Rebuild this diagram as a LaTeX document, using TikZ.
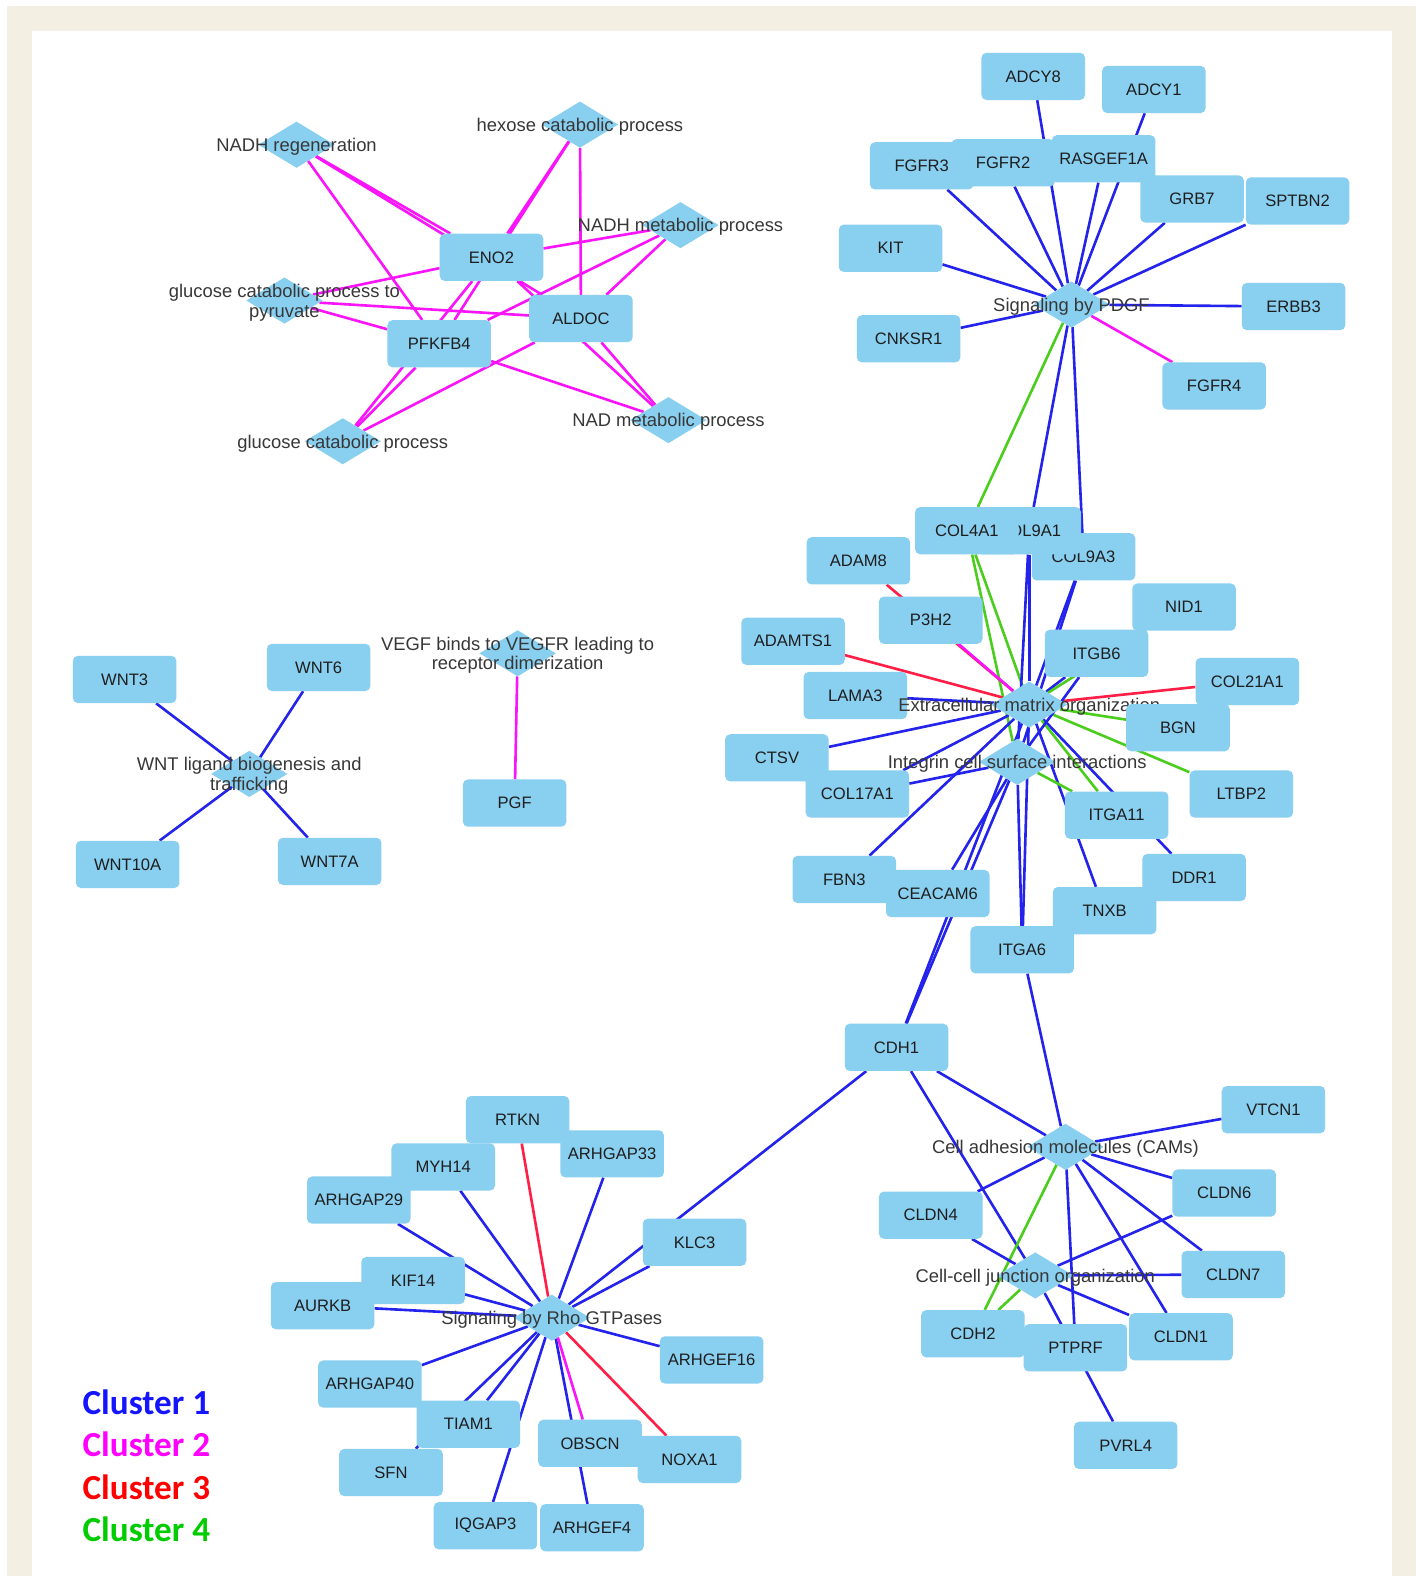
\documentclass[tikz,border=0pt]{standalone}
\usepackage{fontspec}
\setmainfont{Liberation Sans}
\newfontfamily\legendfont{Carlito}
\usetikzlibrary{shapes.geometric}
\definecolor{nodeblue}{RGB}{137,207,240}
\definecolor{framebg}{RGB}{243,240,227}
\definecolor{cblue}{RGB}{35,35,235}
\definecolor{cmag}{RGB}{250,20,250}
\definecolor{cred}{RGB}{255,30,70}
\definecolor{cgreen}{RGB}{75,205,30}
\definecolor{gtext}{RGB}{30,30,30}
\definecolor{ptext}{RGB}{55,55,55}
\definecolor{lg1}{RGB}{20,20,255}
\definecolor{lg2}{RGB}{255,0,255}
\definecolor{lg3}{RGB}{255,0,0}
\definecolor{lg4}{RGB}{0,204,0}
\pgfdeclarelayer{back}
\pgfdeclarelayer{links}
\pgfsetlayers{back,links,main}
\tikzset{
  gene/.style={shape=rectangle, rounded corners=5pt, minimum width=103pt, minimum height=47pt, inner sep=0pt, fill=nodeblue, text=gtext, font=\fontsize{16.5}{18}\selectfont},
  proc/.style={shape=diamond, minimum width=76pt, minimum height=46pt, inner sep=0pt, fill=nodeblue},
  plabel/.style={inner sep=0pt, align=center, yshift=-2pt, text=ptext, font=\fontsize{18.3}{19.5}\selectfont},
  c1/.style={draw=cblue, line width=2.6pt},
  c2/.style={draw=cmag, line width=2.6pt},
  c3/.style={draw=cred, line width=2.6pt},
  c4/.style={draw=cgreen, line width=2.6pt},
  legend/.style={anchor=west, inner sep=0pt, font=\legendfont\bfseries\fontsize{35}{36}\selectfont}
}
\begin{document}
\begin{tikzpicture}[x=1pt, y=-1pt]
\useasboundingbox (0,0) rectangle (1413,1568);
\begin{pgfonlayer}{back}
\fill[white] (0,0) rectangle (1413,1568);
\fill[framebg] (7,6) rectangle (1409,1568);
\fill[white] (32,31) rectangle (1385,1568);
\end{pgfonlayer}

\node[gene] (eno2) at (489,256) {ENO2};
\node[gene] (aldoc) at (578,317) {ALDOC};
\node[gene] (pfkfb4) at (437,342) {PFKFB4};
\node[proc] (nadhreg) at (295,144) {}; \node[plabel] at (nadhreg) {NADH regeneration};
\node[proc] (hexose) at (577,124) {}; \node[plabel] at (hexose) {hexose catabolic process};
\node[proc] (nadhmet) at (677,224) {}; \node[plabel] at (nadhmet) {NADH metabolic process};
\node[proc] (gcpyr) at (283,299) {}; \node[plabel] at (gcpyr) {glucose catabolic process to\\pyruvate};
\node[proc] (gccat) at (341,439) {}; \node[plabel] at (gccat) {glucose catabolic process};
\node[proc] (nadmet) at (665,418) {}; \node[plabel] at (nadmet) {NAD metabolic process};

\node[gene] (adcy8) at (1028,76) {ADCY8};
\node[gene] (adcy1) at (1148,89) {ADCY1};
\node[gene] (fgfr3) at (917,165) {FGFR3};
\node[gene] (fgfr2) at (998,162) {FGFR2};
\node[gene] (rasgef) at (1098,158) {RASGEF1A};
\node[gene] (grb7) at (1186,198) {GRB7};
\node[gene] (sptbn2) at (1291,200) {SPTBN2};
\node[gene] (kit) at (886,247) {KIT};
\node[gene] (cnksr1) at (904,337) {CNKSR1};
\node[gene] (erbb3) at (1287,305) {ERBB3};
\node[gene] (fgfr4) at (1208,384) {FGFR4};
\node[proc] (pdgf) at (1066,303) {}; \node[plabel] at (pdgf) {Signaling by PDGF};

\node[gene] (wnt3) at (124,676) {WNT3};
\node[gene] (wnt6) at (317,664) {WNT6};
\node[gene] (wnt10a) at (127,860) {WNT10A};
\node[gene] (wnt7a) at (328,857) {WNT7A};
\node[proc] (wnt) at (248,770) {}; \node[plabel] at (wnt) {WNT ligand biogenesis and\\trafficking};
\node[gene] (pgf) at (512,799) {PGF};
\node[proc] (vegf) at (515,650) {}; \node[plabel] at (vegf) {VEGF binds to VEGFR leading to\\receptor dimerization};

\node[gene] (adam8) at (854,558) {ADAM8};
\node[gene] (p3h2) at (926,617) {P3H2};
\node[gene] (adamts1) at (789,638) {ADAMTS1};
\node[gene] (lama3) at (851,692) {LAMA3};
\node[gene] (ctsv) at (773,754) {CTSV};
\node[gene] (col17a1) at (853,790) {COL17A1};
\node[gene] (fbn3) at (840,875) {FBN3};
\node[gene] (ceacam6) at (933,889) {CEACAM6};
\node[gene] (col9a3) at (1078,554) {COL9A3};
\node[gene] (col9a1) at (1024,528) {COL9A1};
\node[gene] (col4a1) at (962,528) {COL4A1};
\node[gene] (nid1) at (1178,604) {NID1};
\node[gene] (itgb6) at (1091,650) {ITGB6};
\node[gene] (itga11) at (1111,811) {ITGA11};
\node[gene] (ltbp2) at (1235,790) {LTBP2};
\node[gene] (ddr1) at (1188,873) {DDR1};
\node[gene] (tnxb) at (1099,906) {TNXB};
\node[gene] (itga6) at (1017,945) {ITGA6};
\node[proc] (ecm) at (1024,701) {}; \node[plabel] at (ecm) {Extracellular matrix organization};
\node[proc] (integ) at (1012,758) {}; \node[plabel] at (integ) {Integrin cell surface interactions};
\node[gene] (col21a1) at (1241,678) {COL21A1};
\node[gene] (bgn) at (1172,724) {BGN};

\node[gene] (cdh1) at (892,1042) {CDH1};
\node[gene] (vtcn1) at (1267,1104) {VTCN1};
\node[gene] (cldn6) at (1218,1187) {CLDN6};
\node[gene] (cldn4) at (926,1209) {CLDN4};
\node[gene] (cldn7) at (1227,1268) {CLDN7};
\node[gene] (cdh2) at (968,1327) {CDH2};
\node[gene] (ptprf) at (1070,1341) {PTPRF};
\node[gene] (cldn1) at (1175,1330) {CLDN1};
\node[gene] (pvrl4) at (1120,1438) {PVRL4};
\node[proc] (cams) at (1060,1141) {}; \node[plabel] at (cams) {Cell adhesion molecules (CAMs)};
\node[proc] (junc) at (1030,1269) {}; \node[plabel] at (junc) {Cell-cell junction organization};

\node[gene] (rtkn) at (515,1114) {RTKN};
\node[gene] (arhgap33) at (609,1148) {ARHGAP33};
\node[gene] (myh14) at (441,1161) {MYH14};
\node[gene] (arhgap29) at (357,1194) {ARHGAP29};
\node[gene] (klc3) at (691,1236) {KLC3};
\node[gene] (aurkb) at (321,1299) {AURKB};
\node[gene] (kif14) at (411,1274) {KIF14};
\node[gene] (arhgef16) at (708,1353) {ARHGEF16};
\node[gene] (arhgap40) at (368,1377) {ARHGAP40};
\node[gene] (sfn) at (389,1465) {SFN};
\node[gene] (tiam1) at (466,1417) {TIAM1};
\node[gene] (obscn) at (587,1436) {OBSCN};
\node[gene] (noxa1) at (686,1452) {NOXA1};
\node[gene] (iqgap3) at (483,1518) {IQGAP3};
\node[gene] (arhgef4) at (589,1520) {ARHGEF4};
\node[proc] (rho) at (549,1311) {}; \node[plabel] at (rho) {Signaling by Rho GTPases};

\node[legend, text=lg1] (cl1) at (82,1395) {Cluster 1};
\node[legend, text=lg2] (cl2) at (82,1437) {Cluster 2};
\node[legend, text=lg3] (cl3) at (82,1480) {Cluster 3};
\node[legend, text=lg4] (cl4) at (82,1522) {Cluster 4};

\begin{pgfonlayer}{links}
\draw[c2] (nadhreg) -- (eno2); \draw[c2] (nadhreg) -- (aldoc); \draw[c2] (nadhreg) -- (pfkfb4);
\draw[c2] (hexose) -- (eno2); \draw[c2] (hexose) -- (aldoc); \draw[c2] (hexose) -- (pfkfb4);
\draw[c2] (nadhmet) -- (eno2); \draw[c2] (nadhmet) -- (aldoc); \draw[c2] (nadhmet) -- (pfkfb4);
\draw[c2] (gcpyr) -- (eno2); \draw[c2] (gcpyr) -- (aldoc); \draw[c2] (gcpyr) -- (pfkfb4);
\draw[c2] (gccat) -- (eno2); \draw[c2] (gccat) -- (aldoc); \draw[c2] (gccat) -- (pfkfb4);
\draw[c2] (nadmet) -- (eno2); \draw[c2] (nadmet) -- (aldoc); \draw[c2] (nadmet) -- (pfkfb4);

\draw[c1] (pdgf) -- (adcy8); \draw[c1] (pdgf) -- (adcy1); \draw[c1] (pdgf) -- (fgfr3);
\draw[c1] (pdgf) -- (fgfr2); \draw[c1] (pdgf) -- (rasgef); \draw[c1] (pdgf) -- (grb7);
\draw[c1] (pdgf) -- (sptbn2); \draw[c1] (pdgf) -- (kit); \draw[c1] (pdgf) -- (cnksr1);
\draw[c1] (pdgf) -- (erbb3); \draw[c2] (pdgf) -- (fgfr4);
\draw[c4] (pdgf) -- (col4a1); \draw[c1] (pdgf) -- (col9a1); \draw[c1] (pdgf) -- (col9a3);

\draw[c1] (wnt) -- (wnt3); \draw[c1] (wnt) -- (wnt6); \draw[c1] (wnt) -- (wnt10a); \draw[c1] (wnt) -- (wnt7a);
\draw[c2] (vegf) -- (pgf);

\draw[c4] (ecm) -- (col4a1); \draw[c4] (integ) -- (col4a1);
\draw[c1] (ecm) -- (col9a1); \draw[c1] (integ) -- (col9a1);
\draw[c1] (ecm) -- (col9a3); \draw[c1] (integ) -- (col9a3);
\draw[c3] (ecm) -- (adam8); \draw[c2] (ecm) -- (p3h2); \draw[c3] (ecm) -- (adamts1);
\draw[c1] (ecm) -- (lama3); \draw[c1] (ecm) -- (ctsv);
\draw[c1] (ecm) -- (col17a1); \draw[c1] (integ) -- (col17a1); \draw[c1] (ecm) -- (fbn3);
\draw[c1] (integ) -- (ceacam6); \draw[c1] (ecm) -- (cdh1); \draw[c1] (integ) -- (cdh1);
\draw[c1] (ecm) -- (itga6); \draw[c1] (integ) -- (itga6);
\draw[c1] (ecm) -- (tnxb); \draw[c1] (ecm) -- (ddr1);
\draw[c4] (ecm) -- (itga11); \draw[c4] (integ) -- (itga11);
\draw[c4] (ecm) -- (ltbp2); \draw[c4] (ecm) -- (bgn); \draw[c3] (ecm) -- (col21a1);
\draw[c1] (ecm) -- (itgb6); \draw[c1] (integ) -- (itgb6); \draw[c4] (ecm) -- (nid1);

\draw[c1] (cams) -- (cdh1); \draw[c1] (junc) -- (cdh1); \draw[c1] (cams) -- (itga6);
\draw[c1] (cams) -- (vtcn1); \draw[c1] (cams) -- (cldn4); \draw[c4] (cams) -- (cdh2);
\draw[c1] (cams) -- (ptprf); \draw[c1] (cams) -- (cldn1); \draw[c1] (cams) -- (cldn7);
\draw[c1] (cams) -- (cldn6);
\draw[c1] (junc) -- (cldn4); \draw[c1] (junc) -- (cldn6); \draw[c1] (junc) -- (cldn7);
\draw[c1] (junc) -- (cldn1); \draw[c1] (junc) -- (pvrl4); \draw[c4] (junc) -- (cdh2);

\draw[c3] (rho) -- (rtkn); \draw[c1] (rho) -- (arhgap33); \draw[c1] (rho) -- (myh14);
\draw[c1] (rho) -- (arhgap29); \draw[c1] (rho) -- (kif14); \draw[c1] (rho) -- (aurkb);
\draw[c1] (rho) -- (klc3); \draw[c1] (rho) -- (cdh1); \draw[c1] (rho) -- (arhgef16);
\draw[c1] (rho) -- (arhgap40); \draw[c1] (rho) -- (tiam1); \draw[c1] (rho) -- (sfn);
\draw[c1] (rho) -- (iqgap3); \draw[c1] (rho) -- (arhgef4);
\draw[c2] (rho) -- (obscn); \draw[c3] (rho) -- (noxa1);
\end{pgfonlayer}
\end{tikzpicture}
\end{document}
